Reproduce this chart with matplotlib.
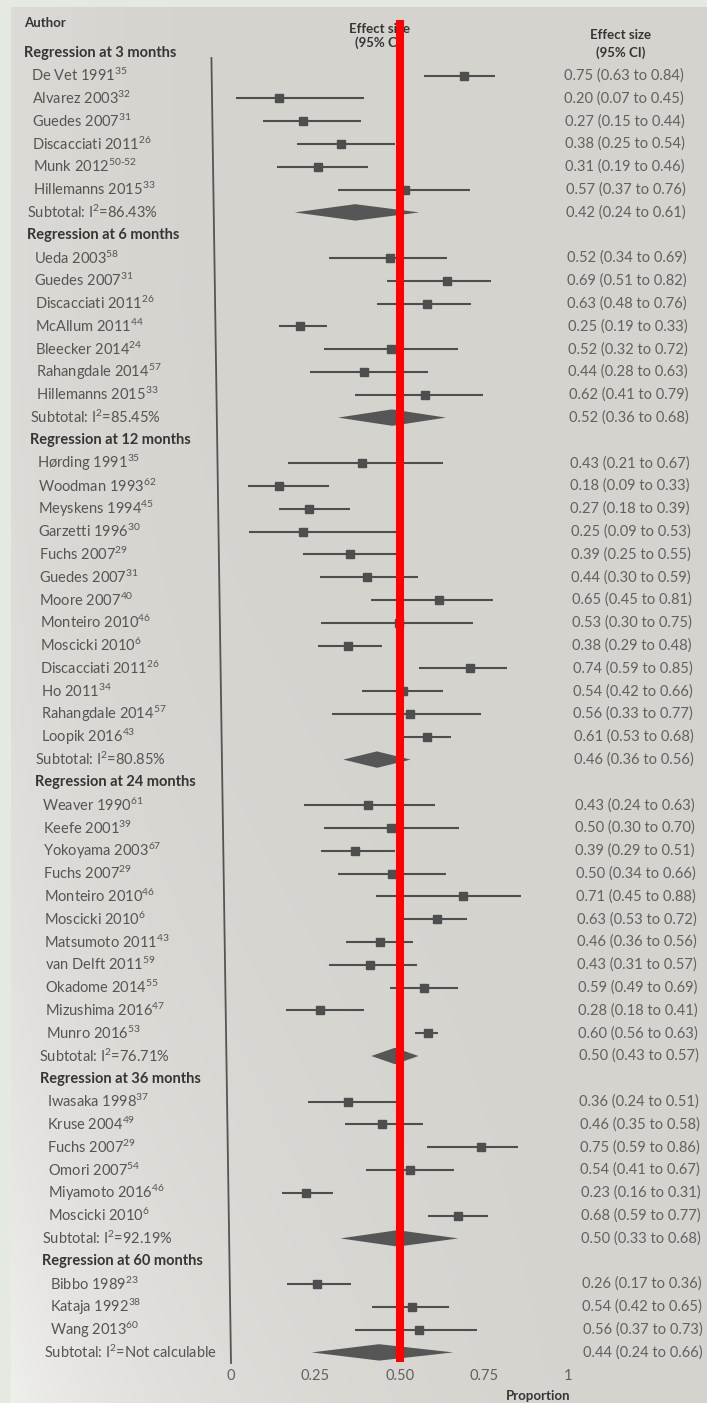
import numpy as np
import matplotlib
matplotlib.use("Agg")
import matplotlib.pyplot as plt
from matplotlib.transforms import Affine2D
from matplotlib.patches import Polygon

plt.rcParams["font.family"] = ["Lato", "DejaVu Sans"]
plt.rcParams["mathtext.fontset"] = "custom"
plt.rcParams["mathtext.rm"] = "Lato"
plt.rcParams["mathtext.bf"] = "Lato:bold"
plt.rcParams["mathtext.default"] = "regular"

# ---------------- data ----------------
group_titles = ["Regression at 3 months", "Regression at 6 months",
                "Regression at 12 months", "Regression at 24 months",
                "Regression at 36 months", "Regression at 60 months"]

names_3 = ["De Vet 1991", "Alvarez 2003", "Guedes 2007", "Discacciati 2011",
           "Munk 2012", "Hillemanns 2015"]
refs_3 = ["35", "32", "31", "26", "50-52", "33"]
est_3 = [0.75, 0.20, 0.27, 0.38, 0.31, 0.57]
lo_3 = [0.63, 0.07, 0.15, 0.25, 0.19, 0.37]
hi_3 = [0.84, 0.45, 0.44, 0.54, 0.46, 0.76]

names_6 = ["Ueda 2003", "Guedes 2007", "Discacciati 2011", "McAllum 2011",
           "Bleecker 2014", "Rahangdale 2014", "Hillemanns 2015"]
refs_6 = ["58", "31", "26", "44", "24", "57", "33"]
est_6 = [0.52, 0.69, 0.63, 0.25, 0.52, 0.44, 0.62]
lo_6 = [0.34, 0.51, 0.48, 0.19, 0.32, 0.28, 0.41]
hi_6 = [0.69, 0.82, 0.76, 0.33, 0.72, 0.63, 0.79]

names_12 = ["Hørding 1991", "Woodman 1993", "Meyskens 1994", "Garzetti 1996",
            "Fuchs 2007", "Guedes 2007", "Moore 2007", "Monteiro 2010",
            "Moscicki 2010", "Discacciati 2011", "Ho 2011", "Rahangdale 2014",
            "Loopik 2016"]
refs_12 = ["35", "62", "45", "30", "29", "31", "40", "46", "6", "26", "34",
           "57", "43"]
est_12 = [0.43, 0.18, 0.27, 0.25, 0.39, 0.44, 0.65, 0.53, 0.38, 0.74, 0.54,
          0.56, 0.61]
lo_12 = [0.21, 0.09, 0.18, 0.09, 0.25, 0.30, 0.45, 0.30, 0.29, 0.59, 0.42,
         0.33, 0.53]
hi_12 = [0.67, 0.33, 0.39, 0.53, 0.55, 0.59, 0.81, 0.75, 0.48, 0.85, 0.66,
         0.77, 0.68]

names_24 = ["Weaver 1990", "Keefe 2001", "Yokoyama 2003", "Fuchs 2007",
            "Monteiro 2010", "Moscicki 2010", "Matsumoto 2011",
            "van Delft 2011", "Okadome 2014", "Mizushima 2016", "Munro 2016"]
refs_24 = ["61", "39", "67", "29", "46", "6", "43", "59", "55", "47", "53"]
est_24 = [0.43, 0.50, 0.39, 0.50, 0.71, 0.63, 0.46, 0.43, 0.59, 0.28, 0.60]
lo_24 = [0.24, 0.30, 0.29, 0.34, 0.45, 0.53, 0.36, 0.31, 0.49, 0.18, 0.56]
hi_24 = [0.63, 0.70, 0.51, 0.66, 0.88, 0.72, 0.56, 0.57, 0.69, 0.41, 0.63]

names_36 = ["Iwasaka 1998", "Kruse 2004", "Fuchs 2007", "Omori 2007",
            "Miyamoto 2016", "Moscicki 2010"]
refs_36 = ["37", "49", "29", "54", "46", "6"]
est_36 = [0.36, 0.46, 0.75, 0.54, 0.23, 0.68]
lo_36 = [0.24, 0.35, 0.59, 0.41, 0.16, 0.59]
hi_36 = [0.51, 0.58, 0.86, 0.67, 0.31, 0.77]

names_60 = ["Bibbo 1989", "Kataja 1992", "Wang 2013"]
refs_60 = ["23", "38", "60"]
est_60 = [0.26, 0.54, 0.56]
lo_60 = [0.17, 0.42, 0.37]
hi_60 = [0.36, 0.65, 0.73]

sub_i2 = ["86.43%", "85.45%", "80.85%", "76.71%", "92.19%", "Not calculable"]
sub_est = [0.42, 0.52, 0.46, 0.50, 0.50, 0.44]
sub_lo = [0.24, 0.36, 0.36, 0.43, 0.33, 0.24]
sub_hi = [0.61, 0.68, 0.56, 0.57, 0.68, 0.66]

tick_values = [0, 0.25, 0.50, 0.75, 1]
tick_labels = ["0", "0.25", "0.50", "0.75", "1"]
reference_line = 0.50

groups = [
    (names_3, refs_3, est_3, lo_3, hi_3),
    (names_6, refs_6, est_6, lo_6, hi_6),
    (names_12, refs_12, est_12, lo_12, hi_12),
    (names_24, refs_24, est_24, lo_24, hi_24),
    (names_36, refs_36, est_36, lo_36, hi_36),
    (names_60, refs_60, est_60, lo_60, hi_60),
]

# ---------------- figure ----------------
W, H, DPI = 707, 1403, 100
fig = plt.figure(figsize=(W / DPI, H / DPI), dpi=DPI)

# paper background with soft lighting
bg = fig.add_axes([0, 0, 1, 1])
bg.set_axis_off()
yy, xx = np.mgrid[0:H, 0:W]
u = xx / W
v = yy / H
paper = np.array([213, 211, 206], float)
light = np.array([238, 238, 235], float)
w = np.clip(0.75 * v ** 3 * (1 - u) ** 2 + 0.35 * (1 - u) ** 8, 0, 1)[..., None]
img = paper * (1 - w) + light * w
edge = np.array([228, 233, 226], float)
img[:, :11] = edge
img[:7, :] = edge
bg.imshow(img.astype(np.uint8), aspect="auto", interpolation="bilinear")

ax = fig.add_axes([0, 0, 1, 1])
ax.set_axis_off()
ax.patch.set_visible(False)
PX0, PX1 = 231.0, 568.0          # pixel columns of 0 and 1
ROW0, ROWH = 30.0, 22.8          # pixel row of index 0, row height
ax.set_xlim(-PX0 / (PX1 - PX0), (W - PX0) / (PX1 - PX0))
ax.set_ylim((H - ROW0) / ROWH, -ROW0 / ROWH)


def row_of(py):
    return (py - ROW0) / ROWH


# slight lean of the printed page
k = -0.0150
shear = Affine2D.from_values(1, 0, k, 1, -k * 40, 0)
T = ax.transData + shear

FS = 10.5
C_HEAD = "#353535"
C_TEXT = "#555555"
C_VAL = "#616161"
C_MARK = "#4e4e4e"
X_HEAD = -0.555
X_STUDY = -0.535
X_VAL = 1.045


def sup(s):
    return r"$^{\text{" + s + "}}$"


ax.text(X_HEAD, -0.3, "Author", fontsize=FS - 1, fontweight="bold",
        color=C_HEAD, va="center", transform=T)
ax.text(0.5, -0.05, "Effect size", fontsize=FS - 1, fontweight="bold",
        color=C_HEAD, va="center", ha="center", transform=T)
ax.text(0.5, 0.55, "(95% CI)", fontsize=FS - 1, fontweight="bold",
        color=C_HEAD, va="center", ha="center", transform=T)
ax.text(1.215, 0.22, "Effect size", fontsize=FS - 1, fontweight="bold",
        color=C_HEAD, va="center", ha="center", transform=T)
ax.text(1.215, 1.0, "(95% CI)", fontsize=FS - 1, fontweight="bold",
        color=C_HEAD, va="center", ha="center", transform=T)

r = 1
for gi, (names, refs, est, lo, hi) in enumerate(groups):
    ax.text(X_HEAD, r, group_titles[gi], fontsize=FS, fontweight="bold",
            color=C_HEAD, va="center", transform=T)
    r += 1
    for n, rf, e, l, h in zip(names, refs, est, lo, hi):
        ax.text(X_STUDY, r, n + sup(rf), fontsize=FS,
                color=C_TEXT, va="center", transform=T)
        ax.plot([l, h], [r, r], color=C_MARK, lw=1.5, transform=T,
                solid_capstyle="butt")
        ax.plot([e], [r], marker="s", ms=5.2, color=C_MARK, transform=T)
        ax.text(X_VAL, r, f"{e:.2f} ({l:.2f} to {h:.2f})", fontsize=FS,
                color=C_VAL, va="center", transform=T)
        r += 1
    e, l, h = sub_est[gi], sub_lo[gi], sub_hi[gi]
    ax.text(X_HEAD, r, "Subtotal: I$^2$=" + sub_i2[gi],
            fontsize=FS, color=C_TEXT, va="center", transform=T)
    ax.add_patch(Polygon([(l, r), (e, r - 0.36), (h, r), (e, r + 0.36)],
                         closed=True, fc="#565656", ec="none", transform=T))
    ax.text(X_VAL, r, f"{e:.2f} ({l:.2f} to {h:.2f})", fontsize=FS,
            color=C_VAL, va="center", transform=T)
    r += 1

# y axis line and x tick labels
ax.plot([0, 0], [row_of(58), row_of(1363)], color="#555555", lw=1.3,
        transform=T)
for tv, tl in zip(tick_values, tick_labels):
    ax.text(tv, row_of(1376), tl, fontsize=FS, color=C_VAL, ha="center",
            va="center", transform=T)
ax.text(0.91, row_of(1396), "Proportion", fontsize=FS - 1,
        fontweight="bold", color=C_HEAD, ha="center", va="center",
        transform=T)

# red reference line
ax.plot([reference_line, reference_line], [row_of(20), row_of(1362)],
        color="#ff0000", lw=5.8, solid_capstyle="butt", zorder=10)

fig.savefig("out.png", dpi=DPI)
